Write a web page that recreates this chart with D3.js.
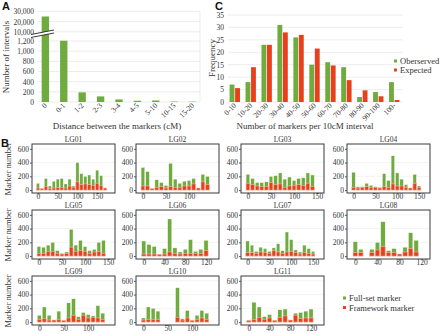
<!DOCTYPE html>
<html>
<head>
<meta charset="utf-8">
<script src="https://cdn.jsdelivr.net/npm/d3@7"></script>
<style>
  body { margin: 0; background: #fff; }
  svg { display: block; }
  text { font-family: "Liberation Serif", serif; fill: #333; }
  .plab { font-family: "Liberation Sans", sans-serif; font-weight: bold; font-size: 11px; fill: #111; }
</style>
</head>
<body>
<div id="chart"></div>
<script>
// ---- data: panel A (intervals between adjacent markers)
const distCats = ["0", "0-1", "1-2", "2-3", "3-4", "4-5", "5-10", "10-15", "15-20"];
const distCounts = [25000, 1220, 190, 110, 50, 25, 30, 8, 6];
const lowTicks = [0, 200, 400, 600, 800, 1000, 1200];
const highTicks = [10000, 20000, 30000];

// ---- data: panel C (markers per 10 cM interval)
const densCats = ["0-10", "10-20", "20-30", "30-40", "40-50", "50-60", "60-70", "70-80", "80-90", "90-100", "100-"];
const observed = [7, 8, 23, 31, 26, 15, 16, 14, 2, 4, 8];
const expected = [5.6, 14, 23, 28, 27, 21.5, 14.7, 8.8, 4.7, 2.3, 0.8];
const freqTicks = [0, 5, 10, 15, 20, 25, 30, 35];

// ---- data: panel B (markers per 10 cM bin, bins start at 0 cM)
const lgNames = ["LG01", "LG02", "LG03", "LG04", "LG05", "LG06", "LG07", "LG08", "LG09", "LG10", "LG11"];
const fullSet = [
  [100, 25, 170, 60, 130, 160, 170, 90, 160, 60, 400, 240, 200, 220, 160, 290, 210, 30],
  [330, 270, 25, 150, 110, 70, 390, 160, 100, 130, 140, 170, 30, 230, 200],
  [230, 170, 110, 110, 120, 200, 210, 250, 160, 190, 140, 170, 180, 250, 220],
  [260, 50, 50, 100, 70, 50, 40, 240, 140, 500, 250, 160, 80, 30, 230, 60],
  [140, 130, 160, 200, 80, 40, 60, 390, 160, 230, 140, 80, 100, 200, 230],
  [220, 170, 140, 30, 110, 540, 120, 60, 100, 240, 70, 100, 230],
  [220, 160, 70, 130, 110, 70, 120, 180, 80, 350, 240, 90, 60, 160, 110, 70],
  [210, 100, null, 100, 200, 500, 80, 110, 30, 130, 340, 230],
  [100, 220, 100, 30, 160, 30, 280, 340, 80, 140, 110, 90, 240, 130],
  [60, 220, 200, 160, null, null, null, 500, 50, 170, 30, 100, 170, 130],
  [30, 290, 220, 80, 110, 30, 180, 190, 30, 130, 140, 160, 190]
];
const framework = [
  [30, 20, 50, 20, 30, 35, 40, 30, 60, 40, 120, 80, 90, 80, 70, 100, 70, 30],
  [60, 60, 20, 40, 50, 30, 50, 40, 40, 60, 60, 90, 30, 120, 80],
  [100, 80, 60, 50, 50, 110, 80, 90, 40, 60, 70, 80, 70, 100, 50],
  [40, 30, 40, 50, 40, 40, 30, 50, 40, 90, 60, 60, 40, 30, 100, 40],
  [40, 40, 70, 70, 40, 30, 40, 130, 70, 80, 70, 40, 60, 70, 40],
  [30, 30, 30, 20, 30, 60, 40, 30, 40, 40, 40, 40, 80],
  [50, 50, 40, 60, 50, 40, 80, 60, 40, 60, 70, 50, 30, 50, 40, 30],
  [50, 50, null, 50, 90, 140, 50, 50, 30, 60, 110, 60],
  [40, 50, 30, 30, 40, 20, 60, 100, 40, 100, 60, 70, 60, 40],
  [30, 40, 40, 40, null, null, null, 70, 30, 60, 20, 40, 60, 40],
  [20, 40, 70, 40, 60, 20, 70, 90, 30, 100, 50, 60, 60]
];
const lgTicks = [
  [0, 50, 100, 150], [0, 50, 100], [0, 50, 100, 150], [0, 50, 100, 150],
  [0, 50, 100, 150], [0, 40, 80, 120], [0, 50, 100, 150], [0, 40, 80, 120],
  [0, 50, 100], [0, 50, 100], [0, 40, 80, 120]
];
const markerTicks = [0, 200, 400, 600];

const green = "#6fab3e", red = "#e8401e", grid = "#e4e4e4";
const width = 440, height = 334;

let svg = d3.select("#chart").append("svg")
    .attr("width", width).attr("height", height)
    .attr("viewBox", [0, 0, width, height]);

// ================= Panel A =================
let xA = d3.scaleBand().domain(distCats).range([38, 200]).paddingInner(0.6).paddingOuter(0.2);
let yLow = d3.scaleLinear().domain([0, 1200]).range([102, 41]);
let yHigh = d3.scaleLinear().domain([10000, 30000]).range([31.8, 11.4]);
let yA = v => v > 1200 ? yHigh(v) : yLow(v);

// gridlines
svg.append("g").selectAll("line")
    .data(lowTicks.map(yLow).concat(highTicks.map(yHigh)))
    .join("line")
    .attr("x1", 38).attr("x2", 200)
    .attr("y1", d => d).attr("y2", d => d)
    .attr("stroke", grid).attr("stroke-width", 0.7);
svg.append("line").attr("x1", 200).attr("x2", 200).attr("y1", yHigh(30000)).attr("y2", yLow(0))
    .attr("stroke", grid).attr("stroke-width", 0.7);

// axes (labels only)
let axA1 = svg.append("g").attr("transform", "translate(37,0)")
    .call(d3.axisLeft(yLow).tickValues(lowTicks).tickSize(0).tickFormat(d3.format(",")));
let axA2 = svg.append("g").attr("transform", "translate(37,0)")
    .call(d3.axisLeft(yHigh).tickValues(highTicks).tickSize(0).tickFormat(d3.format(",")));
[axA1, axA2].forEach(a => {
    a.select(".domain").remove();
    a.selectAll("text").attr("font-family", "Liberation Serif").attr("font-size", 7.5).attr("fill", "#444");
});

svg.append("g").selectAll("rect")
    .data(distCats)
    .join("rect")
    .attr("x", (d) => xA(d))
    .attr("width", xA.bandwidth())
    .attr("y", (d, i) => yA(distCounts[i]))
    .attr("height", (d, i) => yLow(0) - yA(distCounts[i]))
    .attr("fill", green);

// axis break
svg.append("path")
    .attr("d", "M31,37.5 L54,33 L54,30 L31,34.5 Z")
    .attr("fill", "#fff");
svg.append("path").attr("d", "M31,37.5 L54,33").attr("stroke", "#222").attr("stroke-width", 0.9);
svg.append("path").attr("d", "M31,34.5 L54,30").attr("stroke", "#222").attr("stroke-width", 0.9);

// x labels
svg.append("g").selectAll("text")
    .data(distCats)
    .join("text")
    .attr("transform", d => `translate(${xA(d) + xA.bandwidth() / 2 + 2},106) rotate(-45)`)
    .attr("text-anchor", "end")
    .attr("font-size", 7.5)
    .attr("fill", "#444")
    .text(d => d);

svg.append("text").attr("x", 117).attr("y", 129).attr("text-anchor", "middle")
    .attr("font-size", 9).text("Distance between the markers (cM)");
svg.append("text").attr("transform", "translate(9,57) rotate(-90)").attr("text-anchor", "middle")
    .attr("font-size", 9).text("Number of intervals");
svg.append("text").attr("class", "plab").attr("x", 2).attr("y", 10).text("A");

// ================= Panel C =================
let xC = d3.scaleBand().domain(densCats).range([228, 401]).paddingInner(0.35).paddingOuter(0.1);
let xSub = d3.scaleBand().domain(["obs", "exp"]).range([0, xC.bandwidth()]).paddingInner(0.12);
let yC = d3.scaleLinear().domain([0, 35]).range([102, 15]);

svg.append("g").selectAll("line")
    .data(freqTicks)
    .join("line")
    .attr("x1", 228).attr("x2", 403)
    .attr("y1", d => yC(d)).attr("y2", d => yC(d))
    .attr("stroke", grid).attr("stroke-width", 0.7);

let axC = svg.append("g").attr("transform", "translate(227,0)")
    .call(d3.axisLeft(yC).tickValues(freqTicks).tickSize(0));
axC.select(".domain").remove();
axC.selectAll("text").attr("font-family", "Liberation Serif").attr("font-size", 7.5).attr("fill", "#444");

let cat = svg.append("g").selectAll("g")
    .data(densCats)
    .join("g")
    .attr("transform", d => `translate(${xC(d)},0)`);
cat.append("rect")
    .attr("x", xSub("obs")).attr("width", xSub.bandwidth())
    .attr("y", (d, i) => yC(observed[i]))
    .attr("height", (d, i) => yC(0) - yC(observed[i]))
    .attr("fill", green);
cat.append("rect")
    .attr("x", xSub("exp")).attr("width", xSub.bandwidth())
    .attr("y", (d, i) => yC(expected[i]))
    .attr("height", (d, i) => yC(0) - yC(expected[i]))
    .attr("fill", red);

svg.append("g").selectAll("text")
    .data(densCats)
    .join("text")
    .attr("transform", d => `translate(${xC(d) + xC.bandwidth() / 2 + 2},106) rotate(-45)`)
    .attr("text-anchor", "end")
    .attr("font-size", 7.5)
    .attr("fill", "#444")
    .text(d => d);

svg.append("text").attr("x", 305).attr("y", 129).attr("text-anchor", "middle")
    .attr("font-size", 9).text("Number of markers per 10cM interval");
svg.append("text").attr("transform", "translate(215,58) rotate(-90)").attr("text-anchor", "middle")
    .attr("font-size", 9).text("Frequency");
svg.append("text").attr("class", "plab").attr("x", 215).attr("y", 10).text("C");

let legC = svg.append("g").selectAll("g")
    .data([["Oberserved", green], ["Expected", red]])
    .join("g")
    .attr("transform", (d, i) => `translate(394,${61 + i * 9})`);
legC.append("rect").attr("x", 0).attr("y", -1.5).attr("width", 3).attr("height", 3).attr("fill", d => d[1]);
legC.append("text").attr("x", 6).attr("y", 3).attr("font-size", 8.5).attr("fill", "#222").text(d => d[0]);

// ================= Panel B =================
svg.append("text").attr("class", "plab").attr("x", 1).attr("y", 147).text("B");

const colX = [32, 136, 241, 347], rowY = [144, 210, 276];
const boxW = 83, boxH = 49;

rowY.forEach(top => {
    svg.append("text").attr("transform", `translate(11,${top + 25}) rotate(-90)`)
        .attr("text-anchor", "middle").attr("font-size", 8.5).text("Marker number");
});

lgNames.forEach((name, k) => {
    let left = colX[k % 4], top = rowY[Math.floor(k / 4)];
    let full = fullSet[k], fw = framework[k];
    let bins = full.map((v, i) => ({ pos: i * 10, full: v, fw: fw[i] })).filter(d => d.full != null);
    let maxPos = (full.length - 1) * 10;

    let x = d3.scaleLinear().domain([-15, maxPos + 25]).range([left, left + boxW]);
    let y = d3.scaleLinear().domain([-42, 670]).range([top + boxH, top]);
    let g = svg.append("g");

    g.selectAll(".gl")
        .data([200, 400, 600])
        .join("line")
        .attr("x1", left).attr("x2", left + boxW)
        .attr("y1", d => y(d)).attr("y2", d => y(d))
        .attr("stroke", "#eeeeee").attr("stroke-width", 0.7);

    let bw = x(8) - x(0);
    g.selectAll(".full")
        .data(bins)
        .join("rect")
        .attr("x", d => x(d.pos) - bw / 2).attr("width", bw)
        .attr("y", d => y(d.full)).attr("height", d => y(0) - y(d.full))
        .attr("fill", green).attr("stroke", "#fff").attr("stroke-width", 0.4);
    g.selectAll(".fw")
        .data(bins)
        .join("rect")
        .attr("x", d => x(d.pos) - bw / 2).attr("width", bw)
        .attr("y", d => y(d.fw)).attr("height", d => y(0) - y(d.fw))
        .attr("fill", red).attr("stroke", "#f6b9aa").attr("stroke-width", 0.6);

    g.append("rect")
        .attr("x", left).attr("y", top).attr("width", boxW).attr("height", boxH)
        .attr("fill", "none").attr("stroke", "#3a3a3a").attr("stroke-width", 1);

    let ay = g.append("g").attr("transform", `translate(${left},0)`)
        .call(d3.axisLeft(y).tickValues(markerTicks).tickSize(2).tickPadding(1));
    ay.select(".domain").remove();
    ay.selectAll("line").attr("stroke", "#555");
    ay.selectAll("text").attr("font-family", "Liberation Serif").attr("font-size", 7.5).attr("fill", "#444");

    let ax = g.append("g").attr("transform", `translate(0,${top + boxH})`)
        .call(d3.axisBottom(x).tickValues(lgTicks[k]).tickSize(1.5).tickPadding(0));
    ax.select(".domain").remove();
    ax.selectAll("line").attr("stroke", "#555");
    ax.selectAll("text").attr("font-family", "Liberation Serif").attr("font-size", 7.5).attr("fill", "#444")
        .attr("dy", "0.6em");

    g.append("text").attr("x", left + boxW / 2).attr("y", top - 2.5)
        .attr("text-anchor", "middle").attr("font-size", 7.5).attr("fill", "#777").text(name);
});

let legB = svg.append("g").selectAll("g")
    .data([["Full-set marker", green], ["Framework marker", red]])
    .join("g")
    .attr("transform", (d, i) => `translate(343,${298 + i * 9.5})`);
legB.append("rect").attr("x", 0).attr("y", -1.5).attr("width", 3).attr("height", 3).attr("fill", d => d[1]);
legB.append("text").attr("x", 6).attr("y", 3).attr("font-size", 8.5).attr("fill", "#222").text(d => d[0]);
</script>
</body>
</html>
